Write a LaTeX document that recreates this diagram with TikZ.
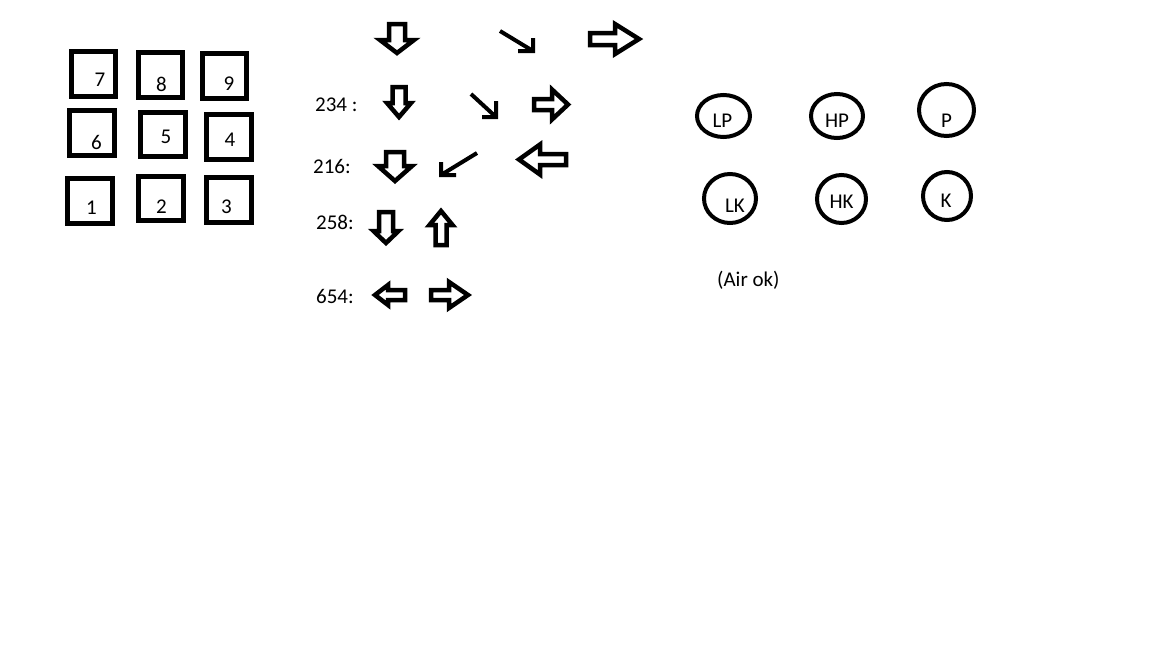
\documentclass[tikz,border=0pt]{standalone}
\usepackage{fontspec}
\setmainfont{Carlito}

% hollow block arrow, vertical: x, tail y, head base y, tip y, shaft half, head half
\newcommand{\vblock}[6]{%
  \draw[blockarrow] ({#1-#5},#2) -- ({#1+#5},#2) -- ({#1+#5},#3) -- ({#1+#6},#3)
    -- (#1,#4) -- ({#1-#6},#3) -- ({#1-#5},#3) -- cycle;}
% hollow block arrow, horizontal: y, tail x, head base x, tip x, shaft half, head half
\newcommand{\hblock}[6]{%
  \draw[blockarrow] (#2,{#1-#5}) -- (#2,{#1+#5}) -- (#3,{#1+#5}) -- (#3,{#1+#6})
    -- (#4,#1) -- (#3,{#1-#6}) -- (#3,{#1-#5}) -- cycle;}

\begin{document}
\begin{tikzpicture}[
  x=1pt, y=-1pt,
  keybox/.style={draw, line width=5pt},
  blockarrow/.style={draw, line width=4.5pt, line join=miter},
  pointer/.style={draw, line width=4pt, line join=miter},
  button/.style={draw, line width=4pt},
  txt/.style={font=\fontsize{21}{25}\selectfont, inner sep=0pt, anchor=base}
]
  \useasboundingbox[fill=white] (0,0) rectangle (1152,648);

  % numpad (left)
  \draw[keybox] (71.5,51.5) rectangle (115.5,96.5);
  \draw[keybox] (138.5,52.5) rectangle (182.5,97.5);
  \draw[keybox] (202.5,53.5) rectangle (246.5,98.5);
  \draw[keybox] (69.5,110.5) rectangle (114.5,155.5);
  \draw[keybox] (140.5,112.5) rectangle (185.5,156.5);
  \draw[keybox] (206.5,114.5) rectangle (251.5,159.5);
  \draw[keybox] (67.5,178.5) rectangle (112.5,223.5);
  \draw[keybox] (138.5,176.5) rectangle (183.5,220.5);
  \draw[keybox] (206.5,177.5) rectangle (251.5,222.5);
  \node[txt] (k7) at (100,86) {7};
  \node[txt] (k8) at (161.5,91) {8};
  \node[txt] (k9) at (229,90) {9};
  \node[txt] (k6) at (96.5,149) {6};
  \node[txt] (k5) at (166,143) {5};
  \node[txt] (k4) at (230,146) {4};
  \node[txt] (k1) at (91.5,214) {1};
  \node[txt] (k2) at (161.5,213) {2};
  \node[txt] (k3) at (226.5,213) {3};

  % direction rows (middle)
  \vblock{397}{24}{40}{53}{8}{17}
  \draw[pointer] (500,31) -- (533,51) (533,38) -- (533,51) -- (518,51);
  \hblock{39}{590}{615}{639}{6}{15}

  \node[txt, anchor=base west] (m234) at (315,111) {234 :};
  \vblock{399}{87}{103}{117}{6.5}{12}
  \draw[pointer] (471,94) -- (496,117) (496,101) -- (496,117) -- (482,117);
  \hblock{104.5}{534}{552}{568}{5.5}{15}

  \node[txt, anchor=base west] (m216) at (313,173) {216:};
  \vblock{395}{152}{166}{181}{9}{17}
  \draw[pointer] (477,153) -- (441,175) (441,162) -- (441,175) -- (456,175);
  \hblock{159.5}{566}{540}{519}{5.5}{15}

  \node[txt, anchor=base west] (m258) at (316,229) {258:};
  \vblock{386}{212}{231}{243}{7}{12.5}
  \vblock{441}{245}{225}{211}{5.5}{11.5}

  \node[txt, anchor=base west] (m654) at (316,303) {654:};
  \hblock{295}{405}{388}{375}{5}{10}
  \hblock{295}{431}{449}{468}{5}{13}

  % attack buttons (right)
  \draw[button] (723.5,116) ellipse [x radius=26.5, y radius=21];
  \draw[button] (837,116) ellipse [x radius=26, y radius=22];
  \draw[button] (946.5,110) ellipse [x radius=27.5, y radius=26];
  \draw[button] (730,198.5) ellipse [x radius=26, y radius=24.5];
  \draw[button] (841.5,199) ellipse [x radius=24.5, y radius=24];
  \draw[button] (947,196) ellipse [x radius=24, y radius=24];
  \node[txt] (lp) at (722.5,127) {LP};
  \node[txt] (hp) at (837,127) {HP};
  \node[txt] (p) at (946.5,127) {P};
  \node[txt] (lk) at (735,212) {LK};
  \node[txt] (hk) at (841.5,208) {HK};
  \node[txt] (k) at (946,207) {K};
  \node[txt, anchor=base west] (air) at (717,286) {(Air ok)};
\end{tikzpicture}
\end{document}
